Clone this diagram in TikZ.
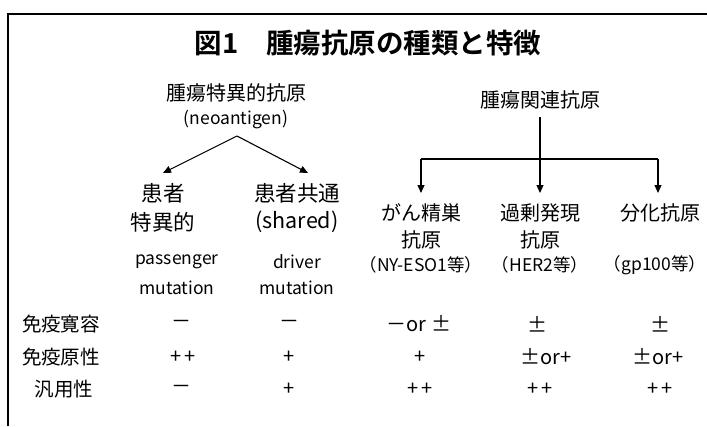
\documentclass[tikz,border=0pt]{standalone}
\usepackage{fontspec}
\setmainfont{Noto Sans CJK JP}
\newfontfamily\jpb{Noto Sans CJK JP Bold}
\usetikzlibrary{arrows.meta}
\tikzset{
  hd/.style={font=\fontsize{20}{22}\selectfont, inner sep=0pt, align=center},
  sub/.style={font=\fontsize{21.5}{28}\selectfont, inner sep=0pt, align=center},
  lat/.style={font=\fontsize{17.5}{24}\selectfont, inner sep=0pt, align=center},
  small/.style={font=\fontsize{17.5}{20}\selectfont, inner sep=0pt, align=center},
  rowlab/.style={font=\fontsize{19.5}{22}\selectfont, inner sep=0pt},
  cell/.style={font=\fontsize{20}{20}\selectfont, inner sep=0pt},
  arr/.style={line width=1.1pt, -{Triangle[length=8pt,width=7pt]}},
  ln/.style={line width=1.1pt},
  frame/.style={line width=2pt}
}
\newcommand{\pp}{+\hspace{3pt}+}
\begin{document}
\begin{tikzpicture}[x=1pt,y=-1pt]
\useasboundingbox (0,0) rectangle (707,426);
\draw[frame] (7.5,426) -- (7.5,14) -- (707,14);
% title
\node[font=\jpb\fontsize{27.5}{30}\selectfont, inner sep=0pt] (title) at (368,43) {図1　腫瘍抗原の種類と特徴};
% left tree
\node[hd] (tsa) at (236,93) {腫瘍特異的抗原};
\node[lat] (neo) at (236,120) {(neoantigen)};
\coordinate (apex) at (237,136);
\coordinate (la) at (163,173);
\coordinate (ra) at (308,173);
\draw[arr] (apex) -- (la);
\draw[arr] (apex) -- (ra);
\node[sub] (p1) at (163,193) {患者};
\node[sub] (p2) at (163,222) {特異的};
\node[lat] (p3) at (177,262) {passenger};
\node[lat] (p4) at (177,288) {mutation};
\node[sub] (s1) at (297,193) {患者共通};
\node[sub] (s2) at (297,222) {(shared)};
\node[lat] (s3) at (297,262) {driver};
\node[lat] (s4) at (297,288) {mutation};
% right tree
\node[hd] (taa) at (540,100) {腫瘍関連抗原};
\coordinate (vtop) at (540,117);
\coordinate (hl) at (421,159);
\coordinate (hm) at (540,159);
\coordinate (hr) at (658,159);
\coordinate (c1) at (421,193);
\coordinate (c2) at (540,193);
\coordinate (c3) at (658,193);
\draw[ln] (vtop) -- (hm);
\draw[ln] (hl) -- (hr);
\draw[arr] (hl) -- (c1);
\draw[arr] (hm) -- (c2);
\draw[arr] (hr) -- (c3);
\node[hd] (a1) at (421,213) {がん精巣};
\node[hd] (a2) at (421,240) {抗原};
\node[small] (a3) at (421,265) {（NY-ESO1等）};
\node[hd] (b1) at (540,213) {過剰発現};
\node[hd] (b2) at (540,240) {抗原};
\node[small] (b3) at (540,265) {（HER2等）};
\node[hd] (d1) at (660,213) {分化抗原};
\node[small] (d3) at (655,265) {（gp100等）};
% table
\node[rowlab] (r1) at (61,324) {免疫寛容};
\node[rowlab] (r2) at (61,357) {免疫原性};
\node[rowlab] (r3) at (64,389) {汎用性};
\node[cell] (r1c1) at (181,324) {－};
\node[cell] (r1c2) at (289,324) {－};
\node[cell] (r1c3) at (419,324) {－or ±};
\node[cell] (r1c4) at (537,324) {±};
\node[cell] (r1c5) at (660,324) {±};
\node[cell] (r2c1) at (183,357) {\pp};
\node[cell] (r2c2) at (289,357) {+};
\node[cell] (r2c3) at (420,357) {+};
\node[cell] (r2c4) at (546,357) {±or+};
\node[cell] (r2c5) at (658,357) {±or+};
\node[cell] (r3c1) at (181,389) {－};
\node[cell] (r3c2) at (289,389) {+};
\node[cell] (r3c3) at (420,389) {\pp};
\node[cell] (r3c4) at (540,389) {\pp};
\node[cell] (r3c5) at (660,389) {\pp};
\end{tikzpicture}
\end{document}
